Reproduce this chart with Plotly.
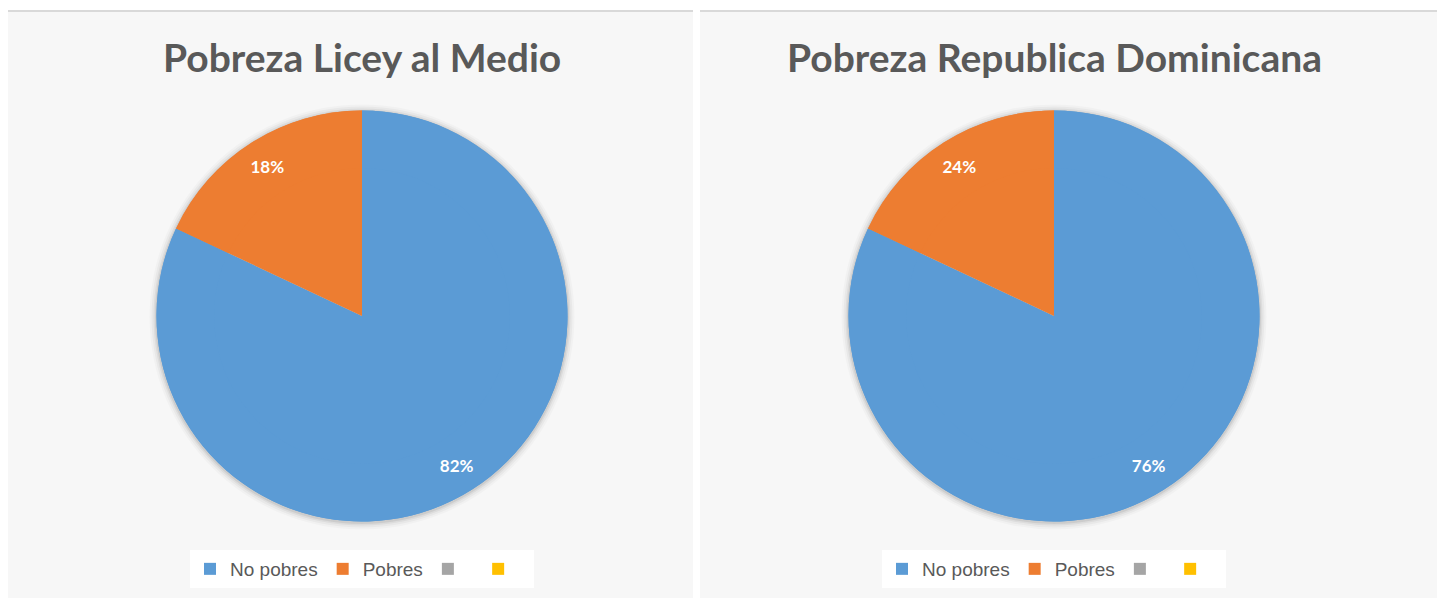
import plotly.graph_objects as go

W, H = 1445, 598
OFF = 8  # default page body margin

# ---- data ----
categories = ["No pobres", "Pobres", " ", "  "]
licey_values = [82, 18, 0, 0]
licey_text = ["82%", "18%", "", ""]
rd_values = [82, 18, 0, 0]          # slice sizes as drawn in the reference
rd_text = ["76%", "24%", "", ""]    # labels as printed in the reference
titles = ["Pobreza Licey al Medio", "Pobreza Republica Dominicana"]
colors = ["#5B9BD5", "#ED7D31", "#A5A5A5", "#FFC000"]


def px_x(x):
    return (x - OFF) / W


def px_y(y):
    return 1 - (y - OFF) / H


panels = [(7, 693), (700, 1438)]
centers = [(362, 316), (1054, 316)]
R = 205.5

fig = go.Figure()

pies = [(licey_values, licey_text, "legend", categories),
        (rd_values, rd_text, "legend2", [c + " " for c in categories] )]
# second chart gets its own (visually identical) label keys so that it has its own legend
pies[1] = (rd_values, rd_text, "legend2", [c + "\u200b" for c in categories])

for i, (vals, txt, leg, labs) in enumerate(pies):
    cx, cy = centers[i]
    dom = dict(x=[px_x(cx - R), px_x(cx + R)], y=[px_y(cy + R), px_y(cy - R)])
    # full pie (colours + legend)
    fig.add_trace(go.Pie(
        labels=labs, values=vals, textinfo="none",
        marker=dict(colors=colors, line=dict(width=0)),
        sort=False, direction="clockwise", rotation=0,
        domain=dom, legend=leg, showlegend=True,
        hoverinfo="label+percent",
    ))
    # outer ring carrying the data labels (places labels near the rim, as in the reference)
    fig.add_trace(go.Pie(
        labels=labs, values=vals, text=txt, texttemplate="%{text}",
        textposition="inside", insidetextorientation="horizontal",
        textfont=dict(family="Lato, Open Sans, sans-serif", size=17, color="white", weight="bold"),
        marker=dict(colors=colors, line=dict(width=0)),
        sort=False, direction="clockwise", rotation=0, hole=0.72,
        domain=dom, legend=leg, showlegend=False,
        hoverinfo="skip",
    ))

shapes = []
annotations = []
for i, (x0, x1) in enumerate(panels):
    shapes.append(dict(type="rect", xref="paper", yref="paper",
                       x0=px_x(x0), x1=px_x(x1), y0=-0.05, y1=px_y(11),
                       fillcolor="#f7f7f7", line=dict(width=0), layer="below"))
    shapes.append(dict(type="line", xref="paper", yref="paper",
                       x0=px_x(x0), x1=px_x(x1), y0=px_y(11), y1=px_y(11),
                       line=dict(color="#d9d9d9", width=2), layer="below"))
    cx, cy = centers[i]
    # soft shadow around the pie
    for d, a in [(7, 0.025), (5, 0.035), (3, 0.05), (1.5, 0.07)]:
        shapes.append(dict(type="circle", xref="paper", yref="paper",
                           x0=px_x(cx - R - d), x1=px_x(cx + R + d),
                           y0=px_y(cy + R + d + 1), y1=px_y(cy - R - d + 1),
                           fillcolor=f"rgba(0,0,0,{a})", line=dict(width=0), layer="below"))
    annotations.append(dict(text=titles[i], xref="paper", yref="paper",
                            x=px_x(cx), y=px_y(57), xanchor="center", yanchor="middle",
                            showarrow=False,
                            font=dict(family="Lato, Open Sans, sans-serif", size=39,
                                      color="#595959", weight="bold")))

legend_common = dict(orientation="h", xanchor="center", yanchor="middle",
                     bgcolor="white", borderwidth=0,
                     font=dict(family="Liberation Sans, Arial, sans-serif", size=19, color="#595959"),
                     itemclick=False, itemdoubleclick=False, traceorder="normal",
                     indentation=0)

fig.update_layout(
    width=W, height=H,
    margin=dict(l=0, r=0, t=0, b=0),
    paper_bgcolor="white",
    plot_bgcolor="white",
    shapes=shapes,
    annotations=annotations,
    legend=dict(x=px_x(362), y=px_y(569), **legend_common),
    legend2=dict(x=px_x(1054), y=px_y(569), **legend_common),
)

fig.write_html("out.html")
